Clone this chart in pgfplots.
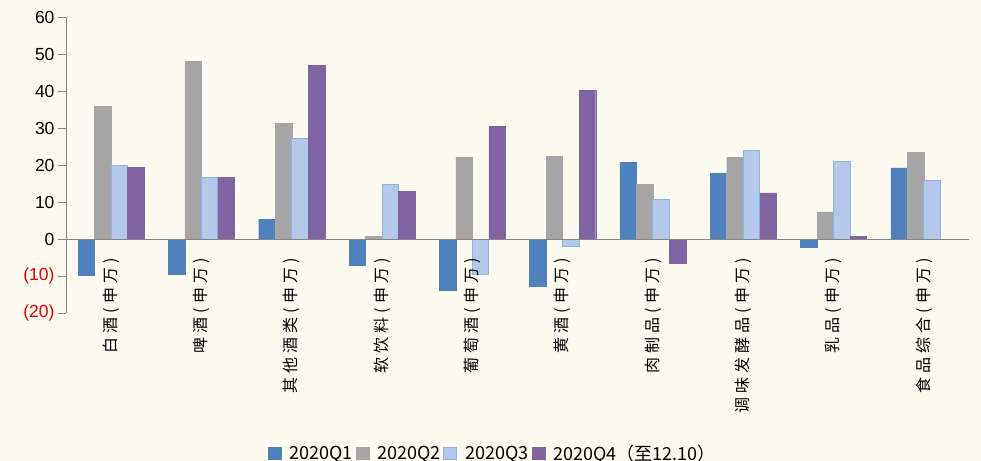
\documentclass[border=0pt]{standalone}
\usepackage{pgfplots}
\pgfplotsset{compat=1.18}
\usepackage{fontspec}
\setmainfont{Liberation Sans}
\newfontfamily\cjk[LetterSpace=25]{Noto Sans CJK SC}
\newfontfamily\cjklegend{Noto Sans CJK SC}

\definecolor{bg}{RGB}{253,250,240}
\definecolor{cqone}{RGB}{79,129,189}
\definecolor{cqtwo}{RGB}{165,165,165}
\definecolor{cqthree}{RGB}{180,201,234}
\definecolor{cqthreeedge}{RGB}{141,180,226}
\definecolor{cqfour}{RGB}{128,100,162}
\definecolor{axisgray}{RGB}{134,134,134}
\definecolor{negred}{RGB}{230,0,0}

% quarterly changes by sector
\pgfplotstableread{
x  q1    q2    q3    q4
0  -9.7  35.9  19.8  19.4
1  -9.6  48.0  16.7  16.7
2  5.4   31.2  27.1  46.9
3  -7.0  0.7   14.8  12.9
4  -13.8 22.2  -9.6  30.4
5  -12.7 22.4  -2.1  40.1
6  20.8  14.7  10.6  -6.6
7  17.8  22.0  24.0  12.5
8  -2.1  7.3   20.9  0.8
9  19.2  23.5  15.9  nan
}\sectordata

\begin{document}
\begin{tikzpicture}
\fill[bg] (-66bp,-148bp) rectangle (915bp,313bp);
\useasboundingbox (-66bp,-148bp) rectangle (915bp,313bp);
\begin{axis}[
  at={(0,0)}, anchor=south west,
  scale only axis,
  width=903bp, height=296bp,
  xmin=-0.5, xmax=9.5,
  ymin=-20, ymax=60,
  axis y line=left,
  axis x line=middle,
  axis on top,
  axis line style={-, axisgray, line width=1pt},
  hide obscured x ticks=false,
  hide obscured y ticks=false,
  ybar=0pt,
  bar width=0.183,
  ytick={-20,-10,0,10,20,30,40,50,60},
  yticklabels={\textcolor{negred}{(20)},\textcolor{negred}{(10)},0,10,20,30,40,50,60},
  y tick label style={font=\fontsize{17.5bp}{20bp}\selectfont},
  ytick align=outside,
  major tick length=8bp,
  minor tick length=6bp,
  tick style={axisgray, line width=1pt},
  xtick={0,...,9},
  xtick style={draw=none},
  minor xtick={0.5,1.5,...,9.5},
  minor x tick style={axisgray, line width=1pt},
  xtick align=outside,
  xticklabels={白酒(申万),啤酒(申万),其他酒类(申万),软饮料(申万),葡萄酒(申万),黄酒(申万),肉制品(申万),调味发酵品(申万),乳品(申万),食品综合(申万)},
  x tick label style={font=\cjk\fontsize{16bp}{16bp}\selectfont, rotate=90, anchor=east, xshift=-8bp},
  legend style={at={(0.4725,-0.475)}, anchor=center, draw=none, fill=none,
    font=\cjklegend\fontsize{18bp}{20bp}\selectfont,
    /tikz/every even column/.append style={column sep=1bp},
    /tikz/every odd column/.append style={column sep=6bp}},
  legend columns=-1,
  legend image code/.code={\fill[#1] (0bp,-6bp) rectangle (13bp,6bp);},
]
\addplot[fill=cqone, draw=cqone] table[x=x, y=q1] {\sectordata};
\addlegendentry{2020Q1}
\addplot[fill=cqtwo, draw=cqtwo] table[x=x, y=q2] {\sectordata};
\addlegendentry{2020Q2}
\addplot[fill=cqthree, draw=cqthreeedge, line width=1pt] table[x=x, y=q3] {\sectordata};
\addlegendentry{2020Q3}
\addplot[fill=cqfour, draw=cqfour] table[x=x, y=q4] {\sectordata};
\addlegendentry{2020Q4（至12.10）}
\end{axis}
\end{tikzpicture}
\end{document}
